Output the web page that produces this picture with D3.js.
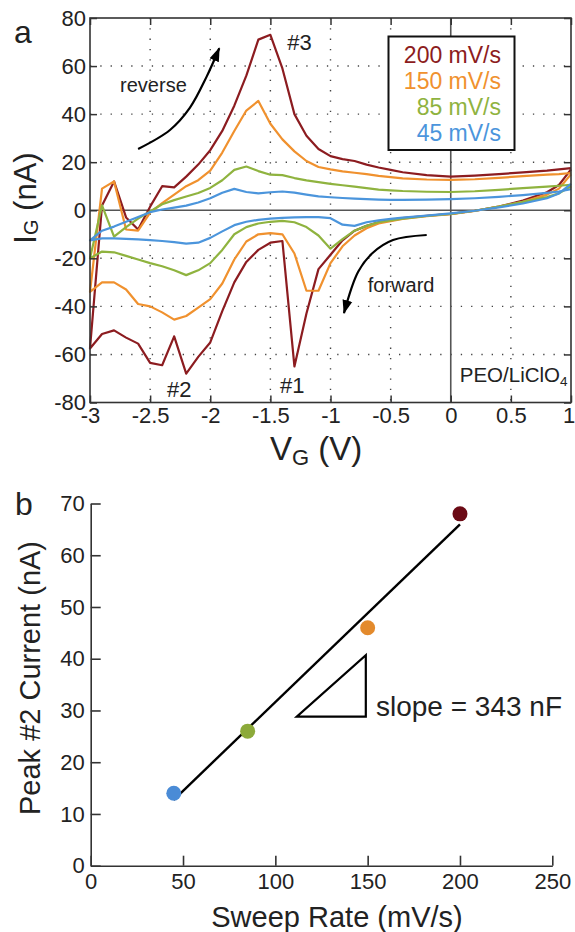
<!DOCTYPE html>
<html>
<head>
<meta charset="utf-8">
<script src="https://cdn.jsdelivr.net/npm/d3@7"></script>
<style>
  body { margin: 0; background: #fff; }
  svg { display: block; font-family: "Liberation Sans", Arial, Helvetica, sans-serif; }
</style>
</head>
<body>
<script>
// panel a : gate voltage grid shared by every branch
const voltage = [-3.0,-2.9,-2.8,-2.7,-2.6,-2.5,-2.4,-2.3,-2.2,-2.1,-2.0,-1.9,-1.8,-1.7,-1.6,-1.5,-1.4,-1.3,-1.2,-1.1,-1.0,-0.9,-0.8,-0.7,-0.6,-0.5,-0.4,-0.2,0,0.2,0.4,0.6,0.8,0.9,1.0];

// forward sweep (bottom branch), current in nA
const fwd200 = [-57.5,-51.5,-50,-53,-55.5,-63.5,-64.5,-52.5,-68,-61,-55,-42,-30,-21.5,-16.5,-13.5,-12.8,-65,-43,-24.5,-18.5,-12.5,-8.5,-6.5,-5,-4,-3.3,-2.3,-1.5,-0.2,1.5,4,7.5,10.5,17];
const fwd150 = [-34,-30,-30,-33,-39,-40,-42.5,-45.5,-44,-40.5,-37,-30.5,-20.5,-13,-10,-9.5,-10,-18,-33.5,-33.5,-22,-15,-10.5,-7.5,-5.5,-4.5,-3.6,-2.5,-1.6,-0.3,1.5,3.5,6.5,9,15];
const fwd85  = [-20,-17.2,-17.5,-19,-20.5,-22,-23.3,-25,-27,-25,-22,-16.5,-10,-7,-5.5,-4.8,-4.4,-5,-7,-10.5,-16,-12,-8.5,-6.5,-5,-4.2,-3.5,-2.4,-1.5,-0.2,1.5,3.5,5.5,7,10];
const fwd45  = [-12.5,-11.7,-11.7,-11.9,-12.1,-12.4,-12.8,-13.3,-13.9,-13.5,-11.5,-8.8,-6.2,-4.8,-4,-3.5,-3.2,-3,-2.9,-2.9,-3.3,-6,-6.5,-5,-4.2,-3.6,-3.1,-2.2,-1.3,-0.2,1.2,2.8,5,7,11];

// reverse sweep (top branch)
const rev200 = [-57.5,2,12,-3,-8,1.5,10,9.5,14,19,25,33,43.5,56,71,73,59,40,31,25.5,22.5,21.3,20.5,19,17.8,16.8,15.8,14.6,14,14.4,15,15.8,16.5,17,17.5];
const rev150 = [-34,9,12,-8,-8.5,-1,3,6.5,10,12.5,16.5,24,33,41.5,45.5,36,29.5,24.5,20.5,18,17,16.2,15.6,15,14.3,13.8,13.3,12.8,12.6,12.9,13.5,14.2,14.8,15,15.5];
const rev85  = [-20,2,-11,-7,-3.5,-0.5,2.5,4.2,5.7,7.2,9.3,12.5,16.8,18.2,16.3,14.8,14.6,13.4,12.4,11.7,11,10.4,9.8,9.2,8.6,8.3,8,7.7,7.6,7.9,8.5,9.2,9.8,10.2,10.6];
const rev45  = [-12.5,-8.5,-6.8,-4.8,-2.8,-0.8,0.3,1.1,1.9,3.2,5,7.3,8.9,7.6,7,7.5,7.8,7.3,6.5,5.8,5.4,5.1,4.8,4.6,4.4,4.3,4.3,4.4,4.6,5,5.6,6.3,7.2,7.8,8.8];

const legendLabels = ["200 mV/s", "150 mV/s", "85 mV/s", "45 mV/s"];
const xTicksA = [-3,-2.5,-2,-1.5,-1,-0.5,0,0.5,1];
const yTicksA = [-80,-60,-40,-20,0,20,40,60,80];

// panel b
const sweepRate = [45, 85, 150, 200];
const peak2 = [14, 26, 46, 68];
const xTicksB = [0, 50, 100, 150, 200, 250];
const yTicksB = [0, 10, 20, 30, 40, 50, 60, 70];

const lineColors = ["#8c1c20", "#f0912e", "#8fb33f", "#4b95dc"];
const dotColors = { 45: "#4a8bd6", 85: "#8caa3a", 150: "#e38a2c", 200: "#6b0a15" };

var svg = d3.select("body").append("svg")
  .attr("width", 575)
  .attr("height", 932);

// arrow head
svg.append("defs").append("marker")
  .attr("id", "head")
  .attr("viewBox", "0 -6 14 12")
  .attr("refX", 13)
  .attr("refY", 0)
  .attr("markerUnits", "userSpaceOnUse")
  .attr("markerWidth", 14)
  .attr("markerHeight", 12)
  .attr("orient", "auto")
  .append("path")
  .attr("d", "M0,-5L14,0L0,5Z")
  .attr("fill", "#000");

// ---------- panel a ----------
var xA = d3.scaleLinear().domain([-3, 1]).range([90, 571]);
var yA = d3.scaleLinear().domain([-80, 80]).range([402.5, 18]);

// dotted grid
var grid = svg.append("g").attr("stroke", "#444").attr("stroke-width", 1.4).attr("stroke-dasharray", "1.3,9");
grid.selectAll(".gx").data(xTicksA.filter(d => d > -3 && d < 1 && d !== 0))
  .enter().append("line")
  .attr("x1", d => xA(d)).attr("x2", d => xA(d))
  .attr("y1", yA(80)).attr("y2", yA(-80));
grid.selectAll(".gy").data(yTicksA.filter(d => d > -80 && d < 80 && d !== 0))
  .enter().append("line")
  .attr("y1", d => yA(d)).attr("y2", d => yA(d))
  .attr("x1", xA(-3)).attr("x2", xA(1));

// zero lines
svg.append("line").attr("x1", xA(-3)).attr("x2", xA(1)).attr("y1", yA(0)).attr("y2", yA(0))
  .attr("stroke", "#555").attr("stroke-width", 1.6);
svg.append("line").attr("x1", xA(0)).attr("x2", xA(0)).attr("y1", yA(80)).attr("y2", yA(-80))
  .attr("stroke", "#555").attr("stroke-width", 1.6);

// CV loops: forward from +1 down to -3, then reverse back up
var fwdAll = [fwd200, fwd150, fwd85, fwd45];
var revAll = [rev200, rev150, rev85, rev45];
var cvLine = d3.line().x(d => xA(d[0])).y(d => yA(d[1]));

fwdAll.forEach(function(f, k) {
  var pts = voltage.map((v, i) => [v, f[i]]).reverse()
    .concat(voltage.map((v, i) => [v, revAll[k][i]]));
  svg.append("path")
    .attr("d", cvLine(pts))
    .attr("fill", "none")
    .attr("stroke", lineColors[k])
    .attr("stroke-width", 2.2)
    .attr("stroke-linejoin", "round");
});

// frame
svg.append("rect")
  .attr("x", xA(-3)).attr("y", yA(80))
  .attr("width", xA(1) - xA(-3)).attr("height", yA(-80) - yA(80))
  .attr("fill", "none").attr("stroke", "#333").attr("stroke-width", 1.6);

function styleAxis(g, size) {
  g.select(".domain").remove();
  g.selectAll(".tick line").attr("stroke", "#333").attr("stroke-width", 1.5);
  g.selectAll(".tick text").attr("fill", "#222").attr("font-size", size)
    .attr("font-family", "Liberation Sans, Arial, sans-serif");
}

svg.append("g").attr("transform", "translate(0," + yA(-80) + ")")
  .call(d3.axisBottom(xA).tickValues(xTicksA).tickSize(-7).tickPadding(5).tickFormat(String))
  .call(g => styleAxis(g, 22))
  .call(g => g.selectAll(".tick text").filter(d => d === 1).attr("x", -2.5));
svg.append("g").attr("transform", "translate(0," + yA(80) + ")")
  .call(d3.axisTop(xA).tickValues(xTicksA).tickSize(-7).tickFormat(""))
  .call(g => styleAxis(g, 22));
svg.append("g").attr("transform", "translate(" + xA(-3) + ",0)")
  .call(d3.axisLeft(yA).tickValues(yTicksA).tickSize(-7).tickPadding(4).tickFormat(String))
  .call(g => styleAxis(g, 22));
svg.append("g").attr("transform", "translate(" + xA(1) + ",0)")
  .call(d3.axisRight(yA).tickValues(yTicksA).tickSize(-7).tickFormat(""))
  .call(g => styleAxis(g, 22));

// axis titles
var xt = svg.append("text").attr("x", 270).attr("y", 460).attr("fill", "#222");
xt.append("tspan").attr("font-size", 33).text("V");
xt.append("tspan").attr("font-size", 22).attr("dy", 5).text("G");
xt.append("tspan").attr("font-size", 33).attr("dy", -5).text(" (V)");

var yt = svg.append("text").attr("transform", "translate(36,198) rotate(-90)")
  .attr("text-anchor", "middle").attr("fill", "#222");
yt.append("tspan").attr("font-size", 31).text("I");
yt.append("tspan").attr("font-size", 20).attr("dy", 2).text("G");
yt.append("tspan").attr("font-size", 31).attr("dy", -2).text(" (nA)");

svg.append("text").attr("x", 14).attr("y", 43).attr("font-size", 32).attr("fill", "#222").text("a");

// legend
var leg = svg.append("g");
leg.append("rect").attr("x", 388.5).attr("y", 36.5).attr("width", 126).attr("height", 113.5)
  .attr("fill", "#fff").attr("stroke", "#111").attr("stroke-width", 2);
leg.selectAll("text").data(legendLabels).enter().append("text")
  .attr("x", 501).attr("y", (d, i) => 62.5 + i * 26.2)
  .attr("text-anchor", "end").attr("font-size", 23)
  .attr("fill", (d, i) => lineColors[i])
  .text(d => d);

// peak labels and notes
function note(v, i, txt, size) {
  return svg.append("text").attr("x", xA(v)).attr("y", yA(i))
    .attr("font-size", size).attr("fill", "#222").text(txt);
}
note(-1.36, 66.7, "#3", 22);
note(-2.36, -77.6, "#2", 22);
note(-1.42, -76, "#1", 22);
note(-2.75, 49.3, "reverse", 20);
note(-0.69, -33.9, "forward", 20);
var peo = note(0.075, -71.3, "PEO/LiClO", 20.5);
peo.append("tspan").attr("font-size", 13.5).attr("dy", 4).text("4");

// sweep direction arrows (data units)
var arrowLine = d3.line().x(d => xA(d[0])).y(d => yA(d[1])).curve(d3.curveCatmullRom);
var revArrow = [[-2.6, 25.5], [-2.335, 33.4], [-2.17, 42.6], [-2.03, 55.6], [-1.925, 67.4]];
var fwdArrow = [[-0.2, -10.3], [-0.48, -12.4], [-0.65, -17.8], [-0.77, -25.6], [-0.888, -42.8]];
[revArrow, fwdArrow].forEach(function(a) {
  svg.append("path").attr("d", arrowLine(a))
    .attr("fill", "none").attr("stroke", "#000").attr("stroke-width", 2.2)
    .attr("marker-end", "url(#head)");
});

// ---------- panel b ----------
var xB = d3.scaleLinear().domain([0, 250]).range([90.7, 552.3]);
var yB = d3.scaleLinear().domain([0, 70]).range([865.7, 503.5]);

function styleAxisB(g) {
  g.select(".domain").attr("stroke", "#333").attr("stroke-width", 1.6);
  g.selectAll(".tick line").attr("stroke", "#333").attr("stroke-width", 1.6);
  g.selectAll(".tick text").attr("fill", "#222").attr("font-size", 22)
    .attr("font-family", "Liberation Sans, Arial, sans-serif");
}

svg.append("g").attr("transform", "translate(0," + yB(0) + ")")
  .call(d3.axisBottom(xB).tickValues(xTicksB).tickSize(-10).tickSizeOuter(0).tickPadding(8).tickFormat(String))
  .call(styleAxisB);
svg.append("g").attr("transform", "translate(" + xB(0) + ",0)")
  .call(d3.axisLeft(yB).tickValues(yTicksB).tickSize(-10).tickSizeOuter(0).tickPadding(6).tickFormat(String))
  .call(styleAxisB);

// least squares fit through the four peaks
var mx = d3.mean(sweepRate), my = d3.mean(peak2);
var sxy = d3.sum(sweepRate, (r, i) => (r - mx) * (peak2[i] - my));
var sxx = d3.sum(sweepRate, r => (r - mx) * (r - mx));
var slope = sxy / sxx, icept = my - slope * mx;
var xr = d3.extent(sweepRate);
svg.append("line")
  .attr("x1", xB(xr[0])).attr("y1", yB(icept + slope * xr[0]))
  .attr("x2", xB(xr[1])).attr("y2", yB(icept + slope * xr[1]))
  .attr("stroke", "#000").attr("stroke-width", 2.4);

svg.selectAll(".dot").data(sweepRate).enter().append("circle")
  .attr("cx", d => xB(d))
  .attr("cy", (d, i) => yB(peak2[i]))
  .attr("r", 7.5)
  .attr("fill", d => dotColors[d]);

// slope triangle
var tri = [[111.6, 28.8], [149, 28.8], [149, 40.7]];
svg.append("path")
  .attr("d", "M" + tri.map(p => xB(p[0]) + "," + yB(p[1])).join("L") + "Z")
  .attr("fill", "none").attr("stroke", "#000").attr("stroke-width", 2.2);
svg.append("text").attr("x", xB(154.5)).attr("y", 716)
  .attr("font-size", 28).attr("fill", "#222")
  .text("slope = " + Math.round(slope * 1000) + " nF");

svg.append("text").attr("x", 337).attr("y", 927).attr("text-anchor", "middle")
  .attr("font-size", 29).attr("fill", "#222").text("Sweep Rate (mV/s)");
svg.append("text").attr("transform", "translate(40,678) rotate(-90)")
  .attr("text-anchor", "middle").attr("font-size", 29).attr("fill", "#222")
  .text("Peak #2 Current (nA)");
svg.append("text").attr("x", 15).attr("y", 515).attr("font-size", 32).attr("fill", "#222").text("b");
</script>
</body>
</html>
